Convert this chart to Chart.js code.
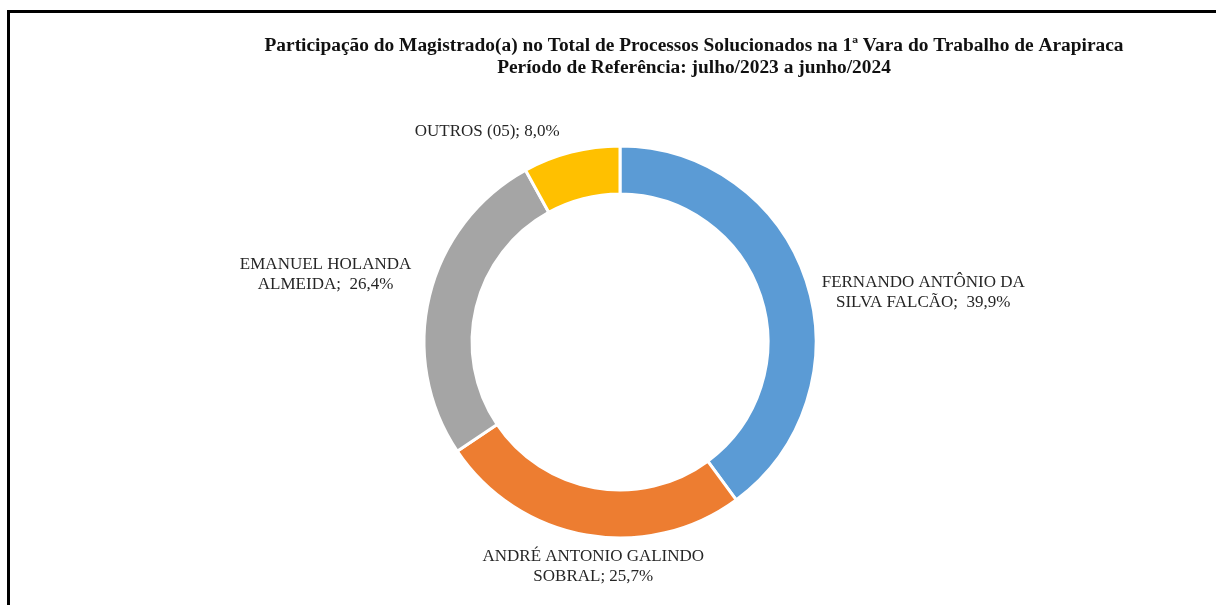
<!DOCTYPE html>
<html>
<head>
<meta charset="utf-8">
<script src="https://cdn.jsdelivr.net/npm/chart.js@4.4.1/dist/chart.umd.min.js"></script>
<style>
html,body{margin:0;padding:0;background:#fff;}
#wrap{position:relative;width:1216px;height:605px;}
</style>
</head>
<body>
<div id="wrap"><canvas id="c" width="1216" height="605"></canvas></div>
<script>
const categories = ["FERNANDO ANTÔNIO DA SILVA FALCÃO", "ANDRÉ ANTONIO GALINDO SOBRAL", "EMANUEL HOLANDA ALMEIDA", "OUTROS (05)"];
const labelLines = [
  ["FERNANDO ANTÔNIO DA", "SILVA FALCÃO;  39,9%"],
  ["ANDRÉ ANTONIO GALINDO", "SOBRAL; 25,7%"],
  ["EMANUEL HOLANDA", "ALMEIDA;  26,4%"],
  ["OUTROS (05); 8,0%"]
];
const shares = [39.9, 25.7, 26.4, 8.0];
const colors = ["#5B9BD5", "#ED7D31", "#A5A5A5", "#FFC000"];
const titleLines = [
  "Participação do Magistrado(a) no Total de Processos Solucionados na 1ª Vara do Trabalho de Arapiraca",
  "Período de Referência: julho/2023 a junho/2024"
];

const labelOffsets = [[117, 12], [7, 31], [-104, -21], [-84, -21]];

const framePlugin = {
  id: 'frame',
  beforeDraw(chart) {
    const ctx = chart.ctx;
    ctx.save();
    ctx.fillStyle = '#000';
    ctx.fillRect(7, 10, 1216 - 7, 3);
    ctx.fillRect(7, 10, 3, 605 - 10);
    ctx.restore();
  }
};

const textPlugin = {
  id: 'texts',
  afterDraw(chart) {
    const ctx = chart.ctx;
    ctx.save();
    ctx.fillStyle = '#111';
    ctx.textAlign = 'center';
    ctx.textBaseline = 'middle';
    ctx.font = 'bold 19.4px "Liberation Serif", "Times New Roman", serif';
    ctx.fillText(titleLines[0], 694, 46);
    ctx.fillText(titleLines[1], 694, 68);

    ctx.fillStyle = '#262626';
    ctx.font = '17px "Liberation Serif", "Times New Roman", serif';
    const meta = chart.getDatasetMeta(0);
    meta.data.forEach((arc, i) => {
      const p = arc.getProps(['x', 'y', 'startAngle', 'endAngle', 'outerRadius']);
      const mid = (p.startAngle + p.endAngle) / 2;
      const ax = p.x + Math.cos(mid) * p.outerRadius + labelOffsets[i][0];
      const ay = p.y + Math.sin(mid) * p.outerRadius + labelOffsets[i][1];
      const lines = labelLines[i];
      const lh = 20;
      const y0 = ay - (lines.length - 1) * lh / 2;
      lines.forEach((t, j) => ctx.fillText(t, ax, y0 + j * lh));
    });
    ctx.restore();
  }
};

new Chart(document.getElementById('c'), {
  type: 'doughnut',
  data: {
    labels: categories,
    datasets: [{
      data: shares,
      backgroundColor: colors,
      borderColor: '#ffffff',
      borderWidth: 3,
      hoverOffset: 0
    }]
  },
  options: {
    responsive: false,
    animation: false,
    events: [],
    radius: 196,
    cutout: '75.5%',
    layout: { padding: { top: 143, bottom: 64, left: 222, right: 198 } },
    plugins: {
      legend: { display: false },
      title: { display: false },
      tooltip: { enabled: false }
    }
  },
  plugins: [framePlugin, textPlugin]
});
</script>
</body>
</html>
